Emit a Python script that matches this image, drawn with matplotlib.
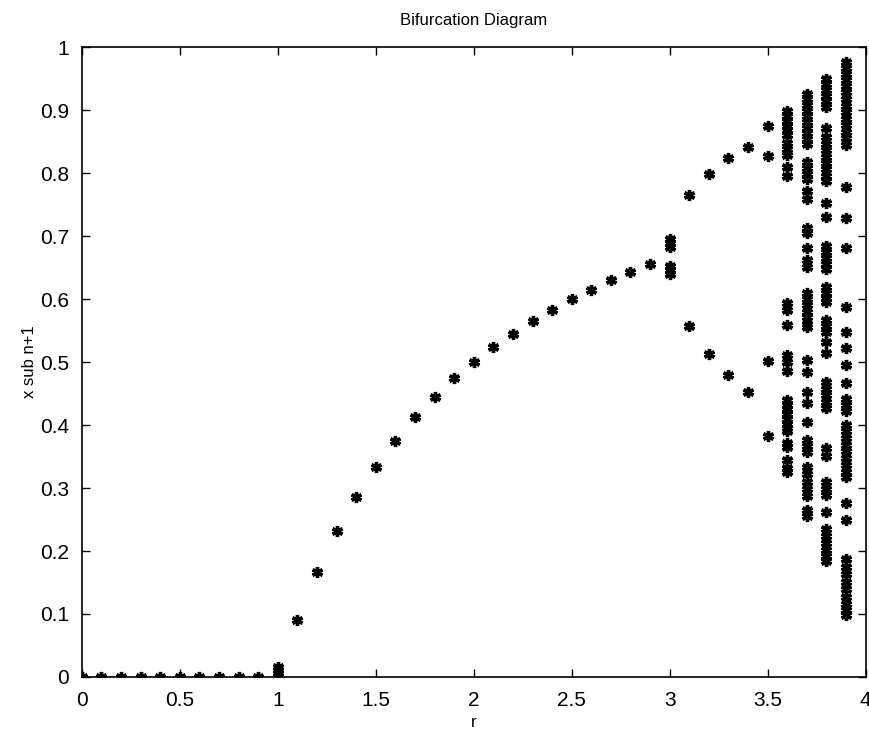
import matplotlib
matplotlib.use("Agg")
import matplotlib.pyplot as plt
import numpy as np

plt.rcParams['font.family'] = ['Liberation Sans', 'DejaVu Sans']

# r values with a single (fixed-point) observed value
r_fixed = [0.0, 0.1, 0.2, 0.3, 0.4, 0.5, 0.6, 0.7, 0.8, 0.9,
           1.1, 1.2, 1.3, 1.4, 1.5, 1.6, 1.7, 1.8, 1.9, 2.0,
           2.1, 2.2, 2.3, 2.4, 2.5, 2.6, 2.7, 2.8, 2.9]
x_fixed = [0.0, 0.0, 0.0, 0.0, 0.0, 0.0, 0.0, 0.0, 0.0, 0.0,
           0.091, 0.167, 0.231, 0.286, 0.333, 0.375, 0.412, 0.444, 0.474, 0.5,
           0.524, 0.545, 0.565, 0.583, 0.6, 0.615, 0.63, 0.643, 0.655]

x_r10 = [0.006, 0.011, 0.016]
x_r30 = [0.640, 0.646, 0.652, 0.683, 0.689, 0.695]
x_r31 = [0.765, 0.558]
x_r32 = [0.799, 0.513]
x_r33 = [0.824, 0.479]
x_r34 = [0.842, 0.452]
x_r35 = [0.875, 0.827, 0.501, 0.383]
x_r36 = [0.898, 0.890, 0.882, 0.875, 0.868, 0.860, 0.848, 0.838, 0.828, 0.810,
         0.795, 0.594, 0.583, 0.559, 0.511, 0.500, 0.486, 0.440, 0.432, 0.425,
         0.418, 0.410, 0.402, 0.395, 0.390, 0.371, 0.365, 0.344, 0.331, 0.326]
x_r37 = [0.925, 0.917, 0.908, 0.899, 0.890, 0.881, 0.872, 0.863, 0.854, 0.846,
         0.818, 0.808, 0.799, 0.790, 0.771, 0.759, 0.713, 0.705, 0.681, 0.662,
         0.651, 0.610, 0.600, 0.591, 0.580, 0.571, 0.561, 0.555, 0.503, 0.484,
         0.452, 0.435, 0.405, 0.376, 0.366, 0.357, 0.333, 0.322, 0.310, 0.298,
         0.288, 0.265, 0.256]
x_r38 = [0.949, 0.941, 0.932, 0.923, 0.914, 0.905, 0.871, 0.857, 0.846, 0.836,
         0.826, 0.816, 0.806, 0.796, 0.787, 0.752, 0.730, 0.685, 0.675, 0.665,
         0.655, 0.648, 0.619, 0.610, 0.602, 0.596, 0.567, 0.558, 0.548, 0.532,
         0.514, 0.468, 0.458, 0.447, 0.436, 0.427, 0.363, 0.351, 0.310, 0.299,
         0.289, 0.262, 0.235, 0.224, 0.212, 0.201, 0.192, 0.184]
x_r39 = [0.976, 0.967, 0.958, 0.948, 0.938, 0.928, 0.918, 0.907, 0.897, 0.886,
         0.876, 0.866, 0.856, 0.845, 0.778, 0.729, 0.681, 0.587, 0.548, 0.522,
         0.495, 0.467, 0.441, 0.432, 0.423, 0.400, 0.390, 0.380, 0.369, 0.358,
         0.347, 0.336, 0.326, 0.317, 0.276, 0.249, 0.187, 0.175, 0.163, 0.151,
         0.139, 0.127, 0.116, 0.106, 0.098]

columns = [(1.0, x_r10), (3.0, x_r30), (3.1, x_r31), (3.2, x_r32), (3.3, x_r33),
           (3.4, x_r34), (3.5, x_r35), (3.6, x_r36), (3.7, x_r37), (3.8, x_r38),
           (3.9, x_r39)]

x_ticks = [0, 0.5, 1, 1.5, 2, 2.5, 3, 3.5, 4]
x_tick_labels = ['0', '0.5', '1', '1.5', '2', '2.5', '3', '3.5', '4']
y_ticks = [0, 0.1, 0.2, 0.3, 0.4, 0.5, 0.6, 0.7, 0.8, 0.9, 1]
y_tick_labels = ['0', '0.1', '0.2', '0.3', '0.4', '0.5', '0.6', '0.7', '0.8', '0.9', '1']

fig = plt.figure(figsize=(8.7, 7.41), dpi=100)
ax = fig.add_axes([0.094, 0.0864, 0.901, 0.850])

mk = dict(marker=(6, 2, 0), markersize=8, markeredgewidth=2.4, color='black',
          linestyle='none')
ax.plot(r_fixed, x_fixed, **mk)
for r, xs in columns:
    ax.plot([r] * len(xs), xs, **mk)

ax.set_xlim(0, 4)
ax.set_ylim(0, 1)
ax.set_xticks(x_ticks)
ax.set_xticklabels(x_tick_labels)
ax.set_yticks(y_ticks)
ax.set_yticklabels(y_tick_labels)
ax.tick_params(direction='in', length=6, width=1, top=True, right=True,
               labelsize=15)
ax.tick_params(axis='x', pad=10)
ax.tick_params(axis='y', pad=9)
for s in ax.spines.values():
    s.set_linewidth(1.2)

ax.set_title('Bifurcation Diagram', fontsize=12, pad=16)
ax.set_xlabel('r', fontsize=12, labelpad=4)
ax.set_ylabel('x sub n+1', fontsize=12, labelpad=2)

fig.savefig('out.png', dpi=100)
